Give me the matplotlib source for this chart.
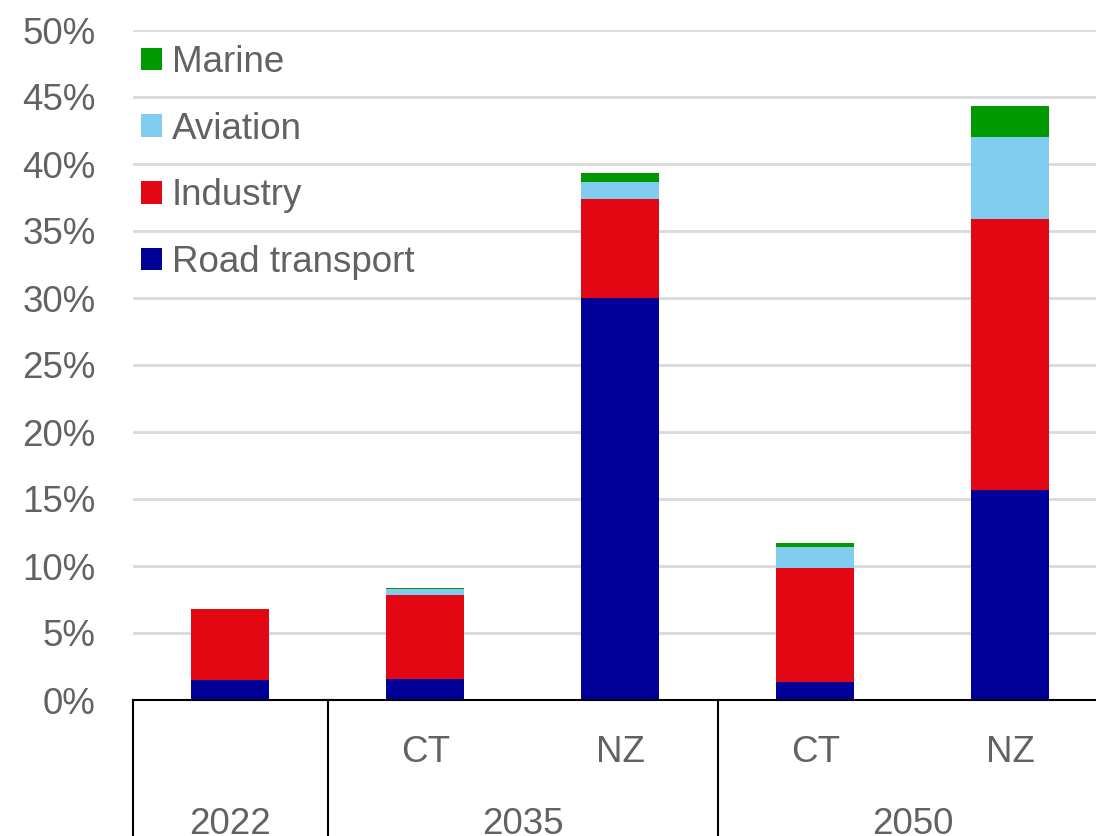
import matplotlib
matplotlib.use("Agg")
import numpy as np
import matplotlib.pyplot as plt
import matplotlib.transforms as mtransforms
from matplotlib.patches import Patch

# data (share, %)
sub_labels = ['', 'CT', 'NZ', 'CT', 'NZ']
year_labels = ['2022', '2035', '2050']
year_pos = [0, 1.5, 3.5]
separators = [-0.5, 0.5, 2.5, 4.5]

road = [1.5, 1.6, 30.0, 1.35, 15.7]
industry = [5.3, 6.2, 7.4, 8.5, 20.2]
aviation = [0.0, 0.45, 1.25, 1.55, 6.1]
marine = [0.0, 0.1, 0.65, 0.3, 2.3]

series = [('Road transport', road, '#000099'),
          ('Industry', industry, '#e30613'),
          ('Aviation', aviation, '#80cdef'),
          ('Marine', marine, '#009900')]

txt = '#626262'
fs = 26.5
plt.rcParams['font.family'] = ['Liberation Sans', 'DejaVu Sans']

fig = plt.figure(figsize=(10.96, 8.36), dpi=100)
ax = fig.add_axes([133/1096, 136/836, (1096-133)/1096, 670/836])

x = np.arange(len(road))
bottom = np.zeros(len(road))
handles = []
for name, vals, col in series:
    ax.bar(x, vals, width=0.4, bottom=bottom, color=col, zorder=3)
    bottom += np.array(vals)
    handles.append(Patch(facecolor=col, label=name))

ax.set_ylim(0, 50)
ax.set_xlim(-0.5, 4.44)
ax.set_yticks(np.arange(0, 51, 5))
ax.set_yticklabels([f'{v}%' for v in range(0, 51, 5)])
ax.tick_params(axis='y', length=0, pad=27, labelsize=fs, labelcolor=txt)
ax.set_xticks([])
ax.grid(axis='y', color='#d9d9d9', linewidth=2, zorder=0)
for s in ['top', 'right', 'left']:
    ax.spines[s].set_visible(False)
ax.spines['bottom'].set_color('black')
ax.spines['bottom'].set_linewidth(1.5)
ax.spines['bottom'].set_zorder(4)

# two-level category axis
trans = mtransforms.blended_transform_factory(ax.transData, ax.transAxes)
for xs in separators:
    ax.plot([xs, xs], [0, -0.21], color='black', lw=1.5, transform=trans, clip_on=False)
for i, lab in enumerate(sub_labels):
    ax.text(i, -0.078, lab, transform=trans, ha='center', va='center', fontsize=fs, color=txt)
for p, lab in zip(year_pos, year_labels):
    ax.text(p, -0.186, lab, transform=trans, ha='center', va='center', fontsize=fs, color=txt)

leg = ax.legend(handles=handles[::-1], loc='upper left', bbox_to_anchor=(-0.018, 1.016),
                frameon=False, fontsize=fs, labelcolor=txt, handlelength=0.57, handleheight=0.57,
                handletextpad=0.25, labelspacing=0.86, borderaxespad=0.3)

fig.savefig('out.png', dpi=100)
